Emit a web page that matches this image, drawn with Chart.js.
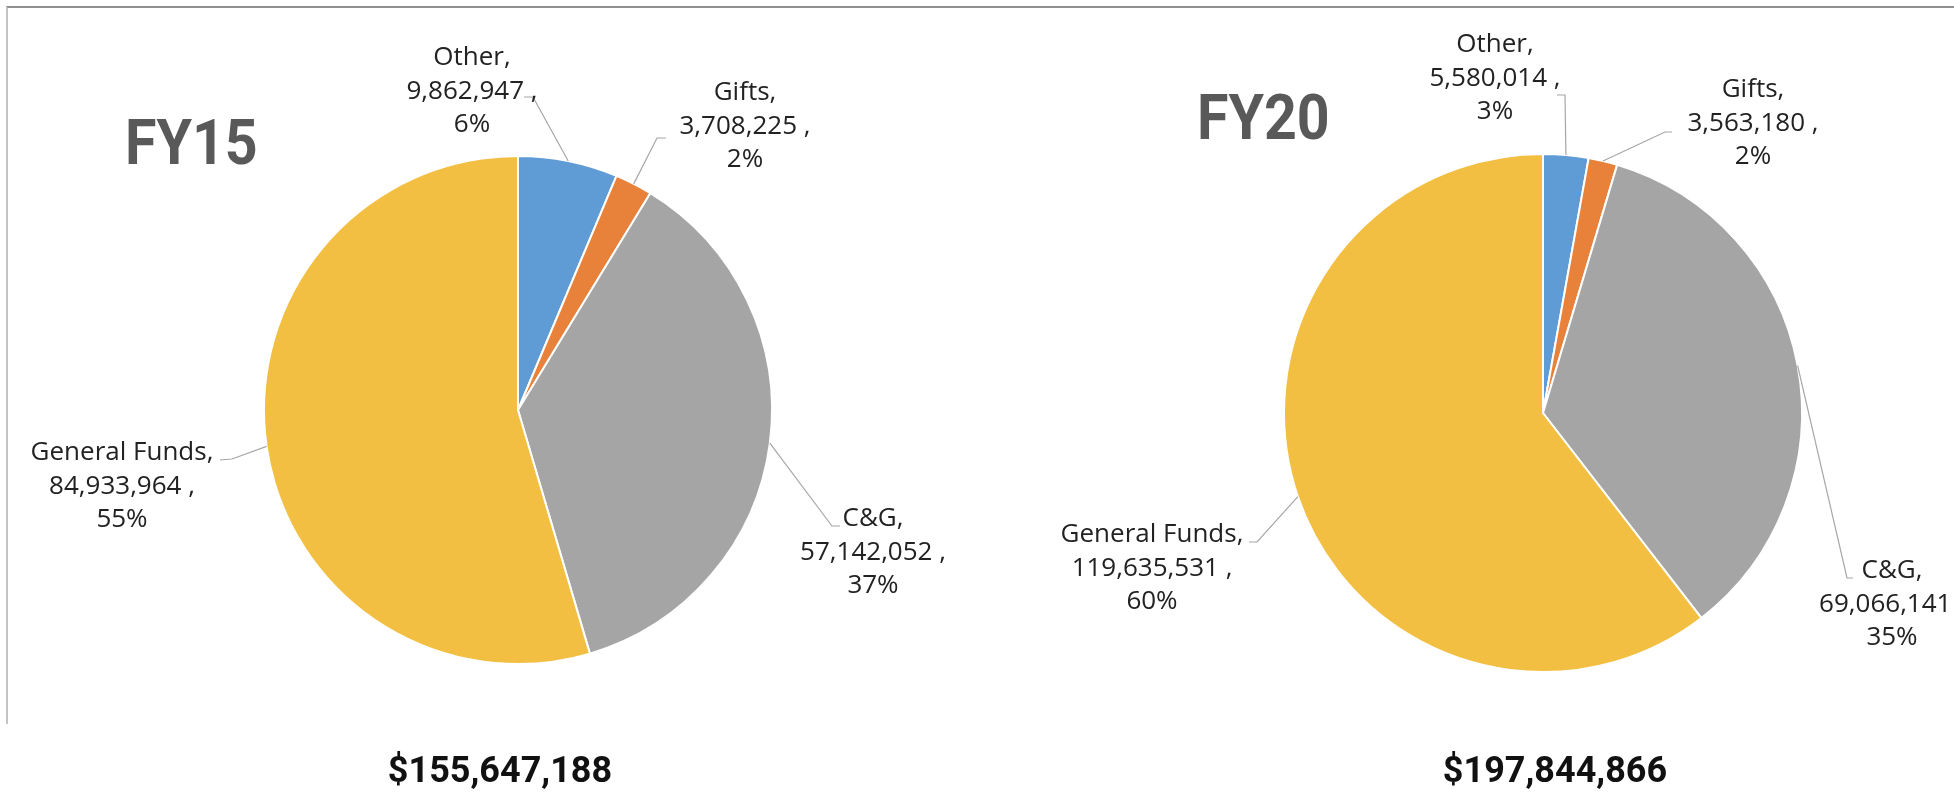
<!DOCTYPE html>
<html>
<head>
<meta charset="utf-8">
<script src="https://cdn.jsdelivr.net/npm/chart.js@4"></script>
<style>
  html, body { margin: 0; padding: 0; background: #fff; }
  body { width: 1954px; height: 794px; position: relative; overflow: hidden; }
  .frame {
    position: absolute; left: 6px; top: 6px; width: 1948px; height: 716px;
    border-top: 2px solid #8f8f8f; border-left: 2px solid #c4c4c4;
  }
  .box { position: absolute; top: 0; width: 977px; height: 794px; }
</style>
</head>
<body>
<div class="frame"></div>
<div class="box" style="left:0"><canvas id="fy15"></canvas></div>
<div class="box" style="left:977px"><canvas id="fy20"></canvas></div>
<script>
const categories = ["Other", "Gifts", "C&G", "General Funds"];
const fy15Values = [9862947, 3708225, 57142052, 84933964];
const fy20Values = [5580014, 3563180, 69066141, 119635531];
const sliceColors = ["#5f9bd5", "#e8823a", "#a5a5a5", "#f3bf42"];

const leaderGrey = "#a6a6a6";
const labelInk = "#222222";

// draws the Excel-style callouts, the big year title and the total below
const calloutPlugin = {
  id: "callouts",
  afterDatasetsDraw(chart, args, opts) {
    const { ctx } = chart;
    const meta = chart.getDatasetMeta(0);
    const values = chart.data.datasets[0].data;
    const total = values.reduce((a, b) => a + b, 0);

    ctx.save();
    meta.data.forEach((arc, i) => {
      const p = arc.getProps(["x", "y", "startAngle", "endAngle", "outerRadius"], true);
      const mid = (p.startAngle + p.endAngle) / 2;
      const sx = p.x + Math.cos(mid) * p.outerRadius;
      const sy = p.y + Math.sin(mid) * p.outerRadius;
      const spot = opts.spots[i];

      ctx.strokeStyle = leaderGrey;
      ctx.lineWidth = 1.2;
      ctx.beginPath();
      ctx.moveTo(sx, sy);
      ctx.lineTo(spot.elbow[0], spot.elbow[1]);
      ctx.lineTo(spot.tick[0], spot.tick[1]);
      ctx.stroke();

      const lines = [
        `${chart.data.labels[i]},`,
        `${values[i].toLocaleString("en-US")} ,`,
        `${Math.round((values[i] / total) * 100)}%`,
      ];
      ctx.fillStyle = labelInk;
      ctx.font = '26px "Open Sans"';
      ctx.textAlign = "center";
      ctx.textBaseline = "alphabetic";
      lines.forEach((t, k) => ctx.fillText(t, spot.x, spot.y + k * 33.5));
    });

    // year title, a bit condensed like the original
    ctx.save();
    ctx.translate(opts.title.x, opts.title.y);
    ctx.scale(0.91, 1);
    ctx.fillStyle = "#595959";
    ctx.font = 'bold 63px Roboto';
    ctx.textAlign = "left";
    ctx.fillText(opts.title.text, 0, 0);
    ctx.restore();

    ctx.fillStyle = "#111111";
    ctx.font = 'bold 36px Roboto';
    ctx.textAlign = "center";
    ctx.fillText(`$${total.toLocaleString("en-US")}`, opts.total.x, opts.total.y);
    ctx.restore();
  },
};

function createPie(canvas, values, radius, padding, callouts) {
  return new Chart(canvas.getContext("2d"), {
    type: "pie",
    data: {
      labels: categories,
      datasets: [
        {
          data: values,
          backgroundColor: sliceColors,
          borderColor: "#ffffff",
          borderWidth: 2,
          radius,
        },
      ],
    },
    options: {
      animation: false,
      responsive: true,
      maintainAspectRatio: false,
      layout: { padding },
      plugins: {
        legend: { display: false },
        tooltip: { enabled: false },
        callouts,
      },
    },
    plugins: [calloutPlugin],
  });
}

createPie(
  document.getElementById("fy15"),
  fy15Values,
  254,
  { left: 218, right: 159, top: 110, bottom: 84 },
  {
    title: { text: "FY15", x: 125, y: 164 },
    total: { x: 500, y: 782 },
    spots: [
      { x: 472, y: 65, elbow: [533, 97], tick: [524, 97] },
      { x: 745, y: 100, elbow: [657, 138], tick: [666, 138] },
      { x: 873, y: 526, elbow: [832, 526], tick: [840, 526] },
      { x: 122, y: 460, elbow: [232, 459], tick: [220, 460] },
    ],
  }
);

createPie(
  document.getElementById("fy20"),
  fy20Values,
  259,
  { left: 266, right: 111, top: 113, bottom: 81 },
  {
    title: { text: "FY20", x: 220, y: 139 },
    total: { x: 578, y: 782 },
    spots: [
      { x: 518, y: 52, elbow: [588, 95], tick: [580, 95] },
      { x: 776, y: 97, elbow: [688, 132], tick: [695, 132] },
      { x: 915, y: 578, elbow: [870, 578], tick: [876, 578] },
      { x: 175, y: 542, elbow: [280, 542], tick: [272, 542] },
    ],
  }
);
</script>
</body>
</html>
